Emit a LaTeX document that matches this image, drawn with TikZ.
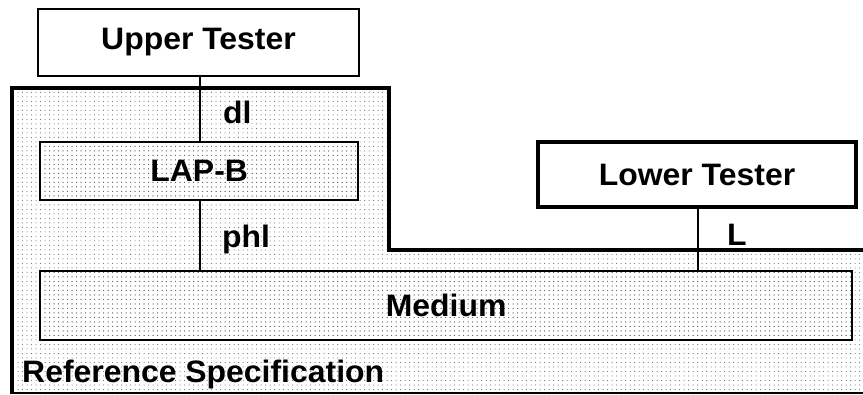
\documentclass[tikz,border=0pt]{standalone}
\usepackage{fontspec}
\setmainfont[FakeStretch=1.03]{Liberation Sans}
\usetikzlibrary{patterns.meta}
\begin{document}
\begin{tikzpicture}[x=1pt,y=-1pt,
  dotfill/.style={pattern={Dots[distance=4.5pt,radius=0.5pt]},pattern color=black!65},
  lbl/.style={font=\fontsize{31}{34}\selectfont\bfseries,inner sep=0pt},
  thinbox/.style={draw,line width=2pt},
  conn/.style={draw,line width=1.8pt}]
\useasboundingbox (0,0) rectangle (863,394);
% reference specification region
\fill[white] (0,0) rectangle (863,394);
\path[dotfill] (12,88) -- (389,88) -- (389,250) -- (863,250) -- (863,394) -- (12,394) -- cycle;
\draw[line width=4pt] (12,394) -- (12,88) -- (389,88) -- (389,250) -- (863,250);
\draw[line width=1.5pt] (12,393) -- (863,393);
% boxes
\node[thinbox,fill=white,minimum width=321pt,minimum height=67pt,anchor=north west,lbl] (ut) at (37,8) {};
\node[lbl] (utt) at (ut.center) {Upper Tester};
\path[thinbox,dotfill] (40,142) rectangle (358,200);
\node[minimum width=318pt,minimum height=58pt,anchor=north west,inner sep=0pt] (lap) at (40,142) {};
\node[lbl] at (lap.center) {LAP-B};
\path[thinbox,dotfill] (40,271) rectangle (852,340);
\node[minimum width=812pt,minimum height=69pt,anchor=north west,inner sep=0pt] (med) at (40,271) {};
\node[lbl] at (med.center) {Medium};
\node[draw,line width=4pt,fill=white,minimum width=318pt,minimum height=65pt,anchor=north west] (lt) at (536,140) {};
\node[lbl] at (lt.center) {Lower Tester};
% connectors
\coordinate (a1) at (200,75);
\draw[conn] (ut.south -| a1) -- (lap.north -| a1);
\coordinate (b1) at (200,200);
\draw[conn] (lap.south -| b1) -- (med.north -| b1);
\coordinate (c1) at (698,205);
\draw[conn] (lt.south -| c1) -- (med.north -| c1);
% labels
\node[lbl,anchor=base west] (dl) at (223,123) {dl};
\node[lbl,anchor=base west] (phl) at (222,247) {phl};
\node[lbl,anchor=base west] (L) at (727,245) {L};
\node[lbl,anchor=base west] (rs) at (22,382) {Reference Specification};
\end{tikzpicture}
\end{document}
